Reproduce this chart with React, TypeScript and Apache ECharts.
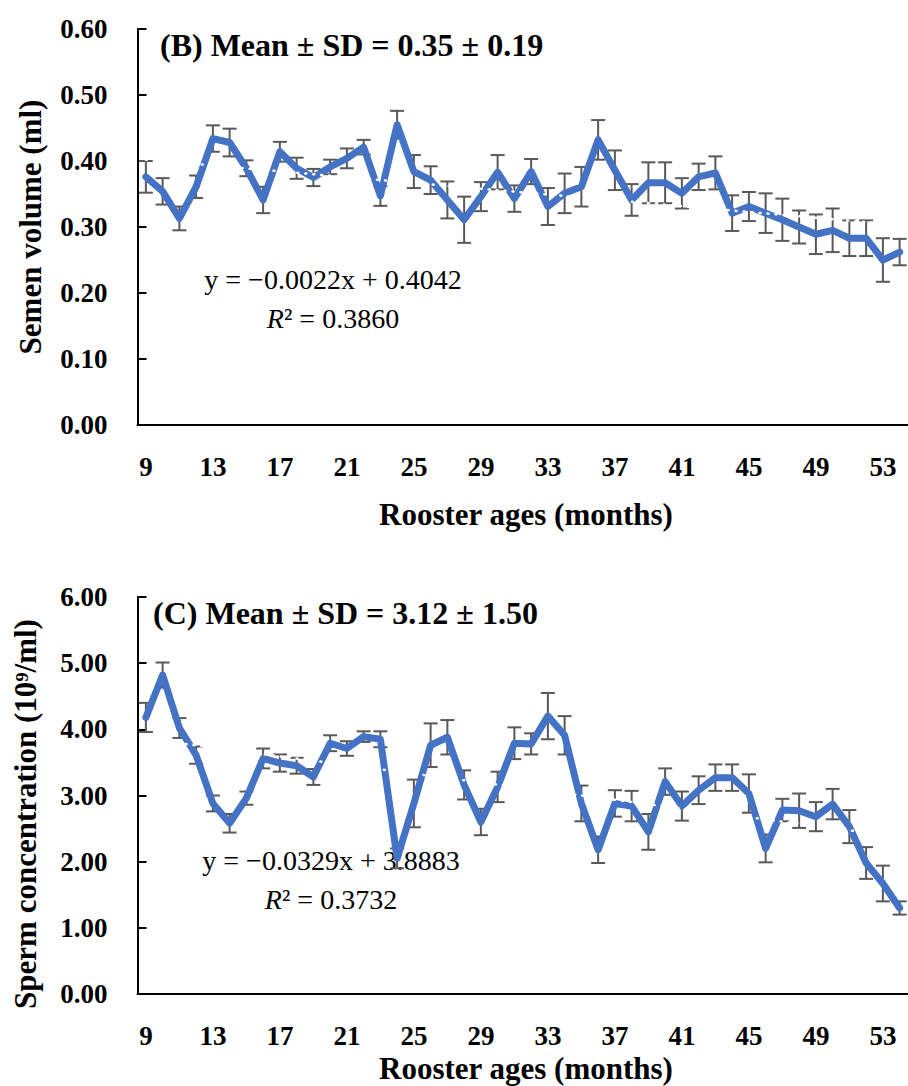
import React, { useEffect, useRef } from "react";
import * as echarts from "echarts";

const months = ["9","10","11","12","13","14","15","16","17","18","19","20","21","22","23","24","25","26","27","28","29","30","31","32","33","34","35","36","37","38","39","40","41","42","43","44","45","46","47","48","49","50","51","52","53","54"];

const volumeMean = [0.376,0.354,0.313,0.361,0.434,0.428,0.389,0.341,0.414,0.389,0.375,0.391,0.404,0.421,0.347,0.455,0.384,0.371,0.341,0.311,0.346,0.383,0.343,0.384,0.331,0.351,0.361,0.432,0.386,0.341,0.367,0.367,0.351,0.376,0.382,0.321,0.331,0.321,0.311,0.300,0.289,0.295,0.283,0.283,0.250,0.262];
const volumeSD = [0.024,0.02,0.018,0.017,0.02,0.021,0.012,0.02,0.015,0.016,0.013,0.011,0.015,0.011,0.015,0.021,0.025,0.021,0.028,0.035,0.022,0.026,0.02,0.019,0.028,0.03,0.03,0.03,0.03,0.024,0.031,0.031,0.023,0.02,0.025,0.027,0.022,0.03,0.032,0.025,0.03,0.033,0.027,0.027,0.033,0.02];
const volumeTrend = [0.402, 0.303];

const concMean = [4.18,4.82,4.02,3.61,2.88,2.58,2.96,3.56,3.49,3.45,3.28,3.79,3.71,3.89,3.85,2.05,2.88,3.76,3.88,3.16,2.60,3.13,3.79,3.78,4.20,3.91,2.88,2.18,2.88,2.84,2.45,3.21,2.84,3.08,3.27,3.27,3.03,2.20,2.78,2.77,2.68,2.87,2.53,1.98,1.67,1.30];
const concSD = [0.22,0.19,0.15,0.13,0.12,0.14,0.10,0.15,0.13,0.12,0.12,0.12,0.11,0.08,0.12,0.15,0.36,0.33,0.26,0.22,0.20,0.23,0.24,0.16,0.35,0.29,0.27,0.20,0.20,0.23,0.27,0.20,0.22,0.21,0.20,0.20,0.29,0.21,0.17,0.26,0.22,0.23,0.25,0.24,0.27,0.10];
const concTrend = [3.8554, 2.3749];

const FONT = "'Liberation Serif', 'Times New Roman', serif";
const BLUE = "#4472C4";
const GREY = "#595959";

function errRender(params: any, api: any) {
  const i = api.value(0);
  const m = api.value(1);
  const s = api.value(2);
  const hi = api.coord([i, m + s]);
  const lo = api.coord([i, m - s]);
  const w = 7;
  const style = { stroke: GREY, lineWidth: 2 };
  return {
    type: "group",
    children: [
      { type: "line", shape: { x1: hi[0], y1: hi[1], x2: lo[0], y2: lo[1] }, style },
      { type: "line", shape: { x1: hi[0] - w, y1: hi[1], x2: hi[0] + w, y2: hi[1] }, style },
      { type: "line", shape: { x1: lo[0] - w, y1: lo[1], x2: lo[0] + w, y2: lo[1] }, style },
    ],
  };
}

function xAxis(gridIndex: number) {
  return {
    type: "category",
    gridIndex,
    data: months,
    axisLine: { show: true, lineStyle: { color: "#000", width: 2 } },
    axisTick: { show: false },
    axisLabel: {
      interval: 3,
      fontFamily: FONT,
      fontWeight: "bold",
      fontSize: 27,
      lineHeight: 27,
      color: "#000",
      margin: 28,
    },
    splitLine: { show: false },
  };
}

function yAxis(gridIndex: number, max: number, interval: number) {
  return {
    type: "value",
    gridIndex,
    min: 0,
    max,
    interval,
    axisLine: { show: true, lineStyle: { color: "#000", width: 2 } },
    axisTick: { show: true, inside: true, length: 9, lineStyle: { color: "#000", width: 2 } },
    splitLine: { show: false },
    axisLabel: {
      formatter: (v: number) => v.toFixed(2),
      fontFamily: FONT,
      fontWeight: "bold",
      fontSize: 27,
      color: "#000",
      margin: 30,
    },
  };
}

function panelSeries(idx: number, mean: number[], sd: number[], trend: number[]) {
  return [
    {
      type: "custom",
      xAxisIndex: idx,
      yAxisIndex: idx,
      renderItem: errRender,
      data: mean.map((v, i) => [i, v, sd[i]]),
      encode: { x: 0, y: 1 },
      z: 2,
      silent: true,
    },
    {
      type: "line",
      xAxisIndex: idx,
      yAxisIndex: idx,
      data: mean,
      symbol: "none",
      lineStyle: { color: BLUE, width: 7, join: "round", cap: "round" },
      z: 3,
    },
    {
      type: "line",
      xAxisIndex: idx,
      yAxisIndex: idx,
      data: [[0, trend[0]], [mean.length - 1, trend[1]]],
      symbol: "none",
      lineStyle: { color: "#ffffff", width: 2.5, type: [1, 7], cap: "round" },
      z: 4,
    },
  ];
}

export default function App() {
  const ref = useRef<HTMLDivElement>(null);
  useEffect(() => {
    if (!ref.current) return;
    const chart = echarts.init(ref.current, null, { renderer: "svg" });
    const titleStyle = { fontFamily: FONT, fontWeight: "bold", fontSize: 32, fill: "#000" };
    const axisNameStyle = { fontFamily: FONT, fontWeight: "bold", fontSize: 31, fill: "#000" };
    const eqStyle = { fontFamily: FONT, fontSize: 28, fill: "#000" };
    const rich = { i: { fontFamily: FONT, fontSize: 28, fontStyle: "italic", fill: "#000" } };
    chart.setOption({
      animation: false,
      backgroundColor: "#ffffff",
      grid: [
        { left: 137.5, top: 29, width: 777, height: 396 },
        { left: 137.5, top: 597, width: 777, height: 397 },
      ],
      xAxis: [xAxis(0), xAxis(1)],
      yAxis: [yAxis(0, 0.6, 0.1), yAxis(1, 6, 1)],
      series: [
        ...panelSeries(0, volumeMean, volumeSD, volumeTrend),
        ...panelSeries(1, concMean, concSD, concTrend),
      ],
      graphic: [
        { type: "text", x: 160, y: 45, style: { ...titleStyle, text: "(B) Mean ± SD = 0.35 ± 0.19", verticalAlign: "middle" } },
        { type: "text", x: 153, y: 613, style: { ...titleStyle, text: "(C) Mean ± SD = 3.12 ± 1.50", verticalAlign: "middle" } },
        { type: "text", x: 333, y: 279, style: { ...eqStyle, text: "y = −0.0022x + 0.4042", align: "center", verticalAlign: "middle" } },
        { type: "text", x: 333, y: 318, style: { ...eqStyle, align: "center", verticalAlign: "middle", text: "{i|R}² = 0.3860", rich } },
        { type: "text", x: 331, y: 860, style: { ...eqStyle, text: "y = −0.0329x + 3.8883", align: "center", verticalAlign: "middle" } },
        { type: "text", x: 331, y: 899, style: { ...eqStyle, align: "center", verticalAlign: "middle", text: "{i|R}² = 0.3732", rich } },
        { type: "text", x: 526, y: 514, style: { ...axisNameStyle, text: "Rooster ages (months)", align: "center", verticalAlign: "middle" } },
        { type: "text", x: 526, y: 1068, style: { ...axisNameStyle, text: "Rooster ages (months)", align: "center", verticalAlign: "middle" } },
        { type: "text", x: 30, y: 227, rotation: Math.PI / 2, style: { ...axisNameStyle, text: "Semen volume (ml)", align: "center", verticalAlign: "middle" } },
        { type: "text", x: 25, y: 814, rotation: Math.PI / 2, style: { ...axisNameStyle, text: "Sperm concentration (10⁹/ml)", align: "center", verticalAlign: "middle" } },
      ],
    });
    return () => chart.dispose();
  }, []);
  return (
    <div style={{ position: "absolute", left: 0, top: 0, width: 908, height: 1086, overflow: "hidden", background: "#fff" }}>
      <div ref={ref} style={{ width: 908, height: 1086 }} />
    </div>
  );
}
